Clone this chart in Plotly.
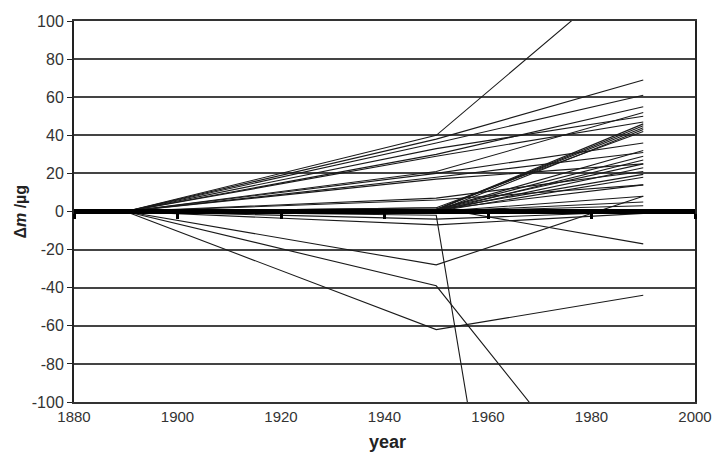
import plotly.graph_objects as go

# Measurement epochs (years)
years = [1890, 1950, 1990]

# Mass change (µg) of each copy relative to the prototype at the three verifications
mass_1890 = [0] * 35
mass_1950 = [40, 38, 36, 33, 30, 29, 21, 20, 18, 17, 7, 6,
             1, 1, 1, 2, 0, 1, 1, 0, 1, 0, 1, 0, 1, 0, 0, 0,
             -2, 2, -7, -4, -28, -39, -62]
mass_1990 = [132, 69, 61, 50, 55, 47, 52, 36, 31, 25, 21, 14,
             46, 44, 45, 42, 43, 32, 29, 27, 25, 23, 19.5, 18, 14, 8, 5, 3,
             -654, -17, -1, 0, 8, -175, -44]

x_ticks = [1880, 1900, 1920, 1940, 1960, 1980, 2000]
y_ticks = [100, 80, 60, 40, 20, 0, -20, -40, -60, -80, -100]
y_tick_text = [str(v) for v in y_ticks]

fig = go.Figure()
for a, b, c in zip(mass_1890, mass_1950, mass_1990):
    fig.add_trace(go.Scatter(x=years, y=[a, b, c], mode="lines",
                             line=dict(color="#1a1a1a", width=1.1),
                             showlegend=False, hoverinfo="skip"))

# trace on the crossing axis (x axis through y = 0)
fig.add_trace(go.Scatter(x=[x_ticks[0], x_ticks[-1]], y=[0, 0], xaxis="x2",
                         mode="lines", line=dict(color="black", width=5),
                         showlegend=False, hoverinfo="skip"))

font = dict(family="Liberation Sans, Arial, sans-serif", size=16, color="#333")
xfont = dict(family="Liberation Sans, Arial, sans-serif", size=15, color="#333")

fig.update_layout(
    width=715, height=452,
    margin=dict(l=74, r=20, t=21, b=50, autoexpand=False),
    paper_bgcolor="white", plot_bgcolor="white",
    font=font,
    xaxis=dict(range=[1880, 2000], tickvals=x_ticks, showgrid=False,
               zeroline=False, showline=True, linecolor="#333", linewidth=2,
               mirror=True, ticks="", tickfont=xfont, automargin=False),
    xaxis2=dict(range=[1880, 2000], tickvals=x_ticks, overlaying="x",
                anchor="free", position=0.5, showgrid=False, zeroline=False,
                showline=True, linecolor="black", linewidth=4,
                ticks="outside", ticklen=5, tickwidth=3, tickcolor="black",
                showticklabels=False, automargin=False),
    yaxis=dict(range=[-100, 100], tickvals=y_ticks, ticktext=y_tick_text,
               showgrid=True, gridcolor="#444", gridwidth=2,
               zeroline=False, showline=True, linecolor="#222", linewidth=2,
               mirror=True, ticks="outside", ticklen=5, tickcolor="#222",
               tickfont=font, automargin=False),
    annotations=[
        dict(text="<b>year</b>", xref="paper", yref="paper", x=0.505, y=0,
             yshift=-40, showarrow=False, xanchor="center", yanchor="middle",
             font=dict(size=18, color="#222")),
        dict(text="<b>Δ<i>m</i> /µg</b>", xref="paper", yref="paper", x=0, y=0.5,
             xshift=-54, showarrow=False, textangle=-90, xanchor="center",
             yanchor="middle", font=dict(size=16, color="#222")),
    ],
)

fig.write_html(
    "out.html",
    config={"displayModeBar": False, "staticPlot": True},
    post_script="document.body.style.margin='0';document.body.style.overflow='hidden';",
)
